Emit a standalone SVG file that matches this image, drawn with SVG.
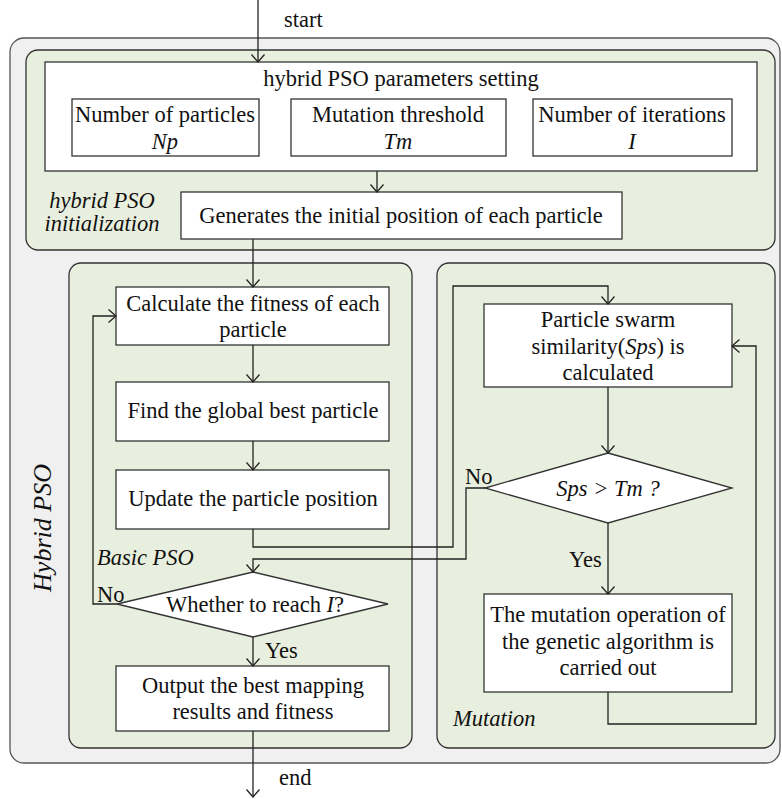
<svg xmlns="http://www.w3.org/2000/svg" width="782" height="799" viewBox="0 0 782 799">
<style>
text{font-family:"Liberation Serif","Times New Roman",serif;font-size:22.5px;fill:#111}
.c{text-anchor:middle}
.i{font-style:italic}
.box{fill:#fff;stroke:#333;stroke-width:1.3}
.grp{fill:#e9efde;stroke:#333;stroke-width:1.3}
.conn path{fill:none;stroke:#222;stroke-width:1.3}
.arr{marker-end:url(#ah)}
</style>
<defs>
<marker id="ah" viewBox="-9 -8 10 16" refX="0" refY="0" markerWidth="10" markerHeight="16" markerUnits="userSpaceOnUse" orient="auto">
<path d="M-7.5,-6.5 L0,0 L-7.5,6.5" fill="none" stroke="#222" stroke-width="1.3"/>
</marker>
</defs>
<g id="hybrid-pso">
<rect x="10" y="38" width="770" height="725" rx="14" fill="#f0f0f0" stroke="#555" stroke-width="1.3"/>
<text class="i" font-size="26" transform="translate(51,528) rotate(-90)" text-anchor="middle" style="font-size:26px">Hybrid PSO</text>
</g>
<g id="init-group">
<rect class="grp" x="26" y="50" width="749" height="200" rx="12"/>
<text class="c i" x="102" y="208">hybrid PSO</text>
<text class="c i" x="102" y="231">initialization</text>
</g>
<g id="params">
<rect class="box" x="45" y="62" width="712" height="109"/>
<text class="c" x="401" y="86">hybrid PSO parameters setting</text>
</g>
<g id="np">
<rect class="box" x="72" y="99" width="187" height="57"/>
<text class="c" x="165" y="122">Number of particles</text>
<text class="c i" x="165" y="149">Np</text>
</g>
<g id="tm">
<rect class="box" x="291" y="99" width="215" height="57"/>
<text class="c" x="398" y="122">Mutation threshold</text>
<text class="c i" x="398" y="149">Tm</text>
</g>
<g id="iter">
<rect class="box" x="533" y="99" width="199" height="57"/>
<text class="c" x="632" y="122">Number of iterations</text>
<text class="c i" x="632" y="149">I</text>
</g>
<g id="generate">
<rect class="box" x="181" y="192" width="441" height="47"/>
<text class="c" x="401" y="223">Generates the initial position of each particle</text>
</g>
<g id="basic-group">
<rect class="grp" x="69" y="263" width="343" height="485" rx="12"/>
<text class="i" x="97" y="565">Basic PSO</text>
</g>
<g id="mutation-group">
<rect class="grp" x="437" y="263" width="338" height="485" rx="12"/>
<text class="i" x="453" y="726">Mutation</text>
</g>
<g id="fitness">
<rect class="box" x="116" y="287" width="273" height="58"/>
<text class="c" x="253" y="311">Calculate the fitness of each</text>
<text class="c" x="253" y="337">particle</text>
</g>
<g id="global-best">
<rect class="box" x="116" y="382" width="273" height="59"/>
<text class="c" x="253" y="418">Find the global best particle</text>
</g>
<g id="update">
<rect class="box" x="116" y="470" width="273" height="59"/>
<text class="c" x="253" y="506">Update the particle position</text>
</g>
<g id="reach">
<polygon class="box" points="253,572 388,604 253,637 117,604"/>
<text class="c" x="255" y="612">Whether to reach <tspan class="i">I</tspan>?</text>
</g>
<g id="output">
<rect class="box" x="116" y="666" width="273" height="65"/>
<text class="c" x="253" y="693">Output the best mapping</text>
<text class="c" x="253" y="719">results and fitness</text>
</g>
<g id="similarity">
<rect class="box" x="484" y="304" width="248" height="83"/>
<text class="c" x="608" y="327">Particle swarm</text>
<text class="c" x="608" y="354">similarity(<tspan class="i">Sps</tspan>) is</text>
<text class="c" x="608" y="380">calculated</text>
</g>
<g id="sps-tm">
<polygon class="box" points="608,453 732,488 608,523 485,488"/>
<text class="c i" x="608" y="496">Sps &gt; Tm ?</text>
</g>
<g id="mutate">
<rect class="box" x="484" y="594" width="248" height="98"/>
<text class="c" x="608" y="622">The mutation operation of</text>
<text class="c" x="608" y="649">the genetic algorithm is</text>
<text class="c" x="608" y="675">carried out</text>
</g>
<g class="conn" id="connectors">
<path class="arr" d="M258,0 V62"/>
<path class="arr" d="M377,171 V192"/>
<path class="arr" d="M253,239 V287"/>
<path class="arr" d="M253,345 V382"/>
<path class="arr" d="M253,441 V470"/>
<path class="arr" d="M253,529 V547 H453 V286 H608 V304"/>
<path class="arr" d="M608,387 V453"/>
<path class="arr" d="M485,488 H466 V559 H253 V572"/>
<path class="arr" d="M117,604 H93 V316 H116"/>
<path class="arr" d="M253,637 V666"/>
<path class="arr" d="M253,731 V797"/>
<path class="arr" d="M608,523 V594"/>
<path class="arr" d="M608,692 V724 H756 V346 H732"/>
</g>
<g id="labels">
<text x="284" y="27">start</text>
<text x="279" y="785">end</text>
<text x="97" y="602">No</text>
<text x="265" y="658">Yes</text>
<text x="465" y="484">No</text>
<text x="569" y="567">Yes</text>
</g>
</svg>
